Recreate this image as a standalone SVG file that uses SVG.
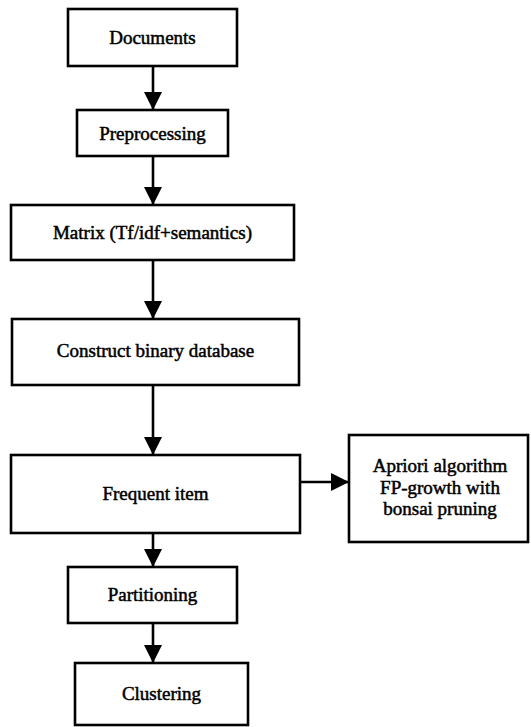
<svg xmlns="http://www.w3.org/2000/svg" width="531" height="727" viewBox="0 0 531 727">
<style>
.box{fill:#fff;stroke:#000;stroke-width:2.6}
.lbl{font-family:"Liberation Serif","Times New Roman",serif;font-size:19px;fill:#000;stroke:#000;stroke-width:0.5;text-anchor:middle}
.edge{stroke:#000;stroke-width:2.6;fill:none}
</style>
<defs>
<marker id="ah" markerUnits="userSpaceOnUse" markerWidth="18" markerHeight="18" viewBox="0 0 18 18" refX="18" refY="9" orient="auto">
<path d="M0,0 L18,9 L0,18 Z" fill="#000"/>
</marker>
</defs>
<rect width="531" height="727" fill="#fff"/>
<g id="connectors">
<line class="edge" x1="153" y1="66" x2="153" y2="110" marker-end="url(#ah)"/>
<line class="edge" x1="153" y1="156" x2="153" y2="205" marker-end="url(#ah)"/>
<line class="edge" x1="153" y1="260" x2="153" y2="319" marker-end="url(#ah)"/>
<line class="edge" x1="153" y1="385" x2="153" y2="455" marker-end="url(#ah)"/>
<line class="edge" x1="153" y1="533" x2="153" y2="567" marker-end="url(#ah)"/>
<line class="edge" x1="153" y1="623" x2="153" y2="663" marker-end="url(#ah)"/>
<line class="edge" x1="300" y1="482" x2="349" y2="482" marker-end="url(#ah)"/>
</g>
<g id="documents">
<rect class="box" x="68" y="9" width="169" height="57"/>
<text class="lbl" x="152.5" y="44">Documents</text>
</g>
<g id="preprocessing">
<rect class="box" x="77" y="110" width="151" height="46"/>
<text class="lbl" x="152.5" y="139.5">Preprocessing</text>
</g>
<g id="matrix">
<rect class="box" x="11" y="205" width="283" height="55"/>
<text class="lbl" x="152.5" y="239">Matrix (Tf/idf+semantics)</text>
</g>
<g id="construct">
<rect class="box" x="12" y="319" width="287" height="66"/>
<text class="lbl" x="155.5" y="357">Construct binary database</text>
</g>
<g id="frequent">
<rect class="box" x="11" y="455" width="289" height="78"/>
<text class="lbl" x="155.5" y="500">Frequent item</text>
</g>
<g id="apriori">
<rect class="box" x="349" y="435" width="179" height="107"/>
<text class="lbl" x="440" y="472">Apriori algorithm</text>
<text class="lbl" x="440" y="494">FP-growth with</text>
<text class="lbl" x="440" y="515">bonsai pruning</text>
</g>
<g id="partitioning">
<rect class="box" x="68" y="567" width="169" height="56"/>
<text class="lbl" x="152.5" y="601">Partitioning</text>
</g>
<g id="clustering">
<rect class="box" x="75" y="663" width="173" height="62"/>
<text class="lbl" x="161.5" y="700">Clustering</text>
</g>
</svg>
